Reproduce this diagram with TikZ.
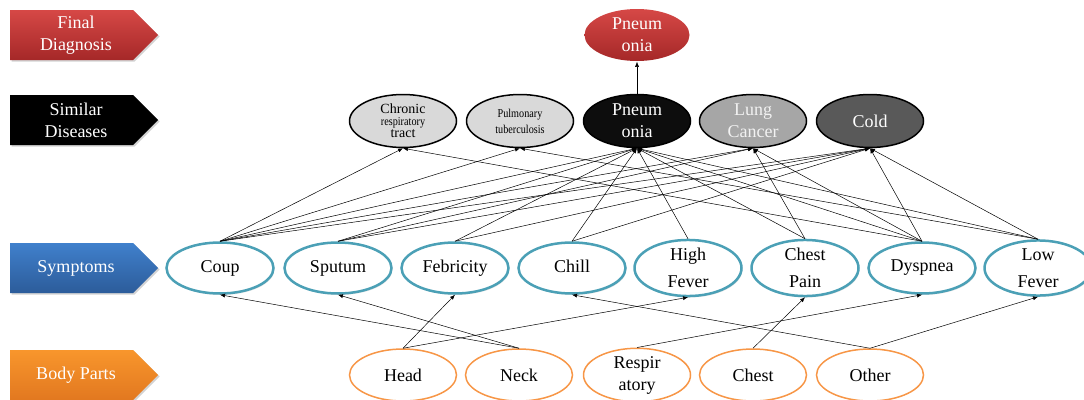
\documentclass[tikz,border=0pt]{standalone}
\usepackage{fontspec}
\setmainfont{Liberation Serif}
\usetikzlibrary{shapes.geometric,shapes.symbols,arrows.meta,shadows}

\definecolor{redtop}{RGB}{214,72,70}
\definecolor{redbot}{RGB}{165,40,40}
\definecolor{bluetop}{RGB}{64,128,204}
\definecolor{bluebot}{RGB}{44,92,154}
\definecolor{orangetop}{RGB}{248,150,44}
\definecolor{orangebot}{RGB}{226,120,32}
\definecolor{symteal}{RGB}{75,160,182}
\definecolor{bodyorange}{RGB}{247,150,70}

\tikzset{
  layer/.style={signal, signal to=east, signal pointer angle=90, minimum width=148pt,
    minimum height=50pt, inner sep=0pt, anchor=west,
    drop shadow={shadow xshift=1.5pt, shadow yshift=-1.5pt, opacity=0.35}},
  layertext/.style={text=white, font=\fontsize{18}{22}\selectfont, align=center},
  disease/.style={ellipse, draw=black, line width=1.5pt, minimum width=107pt,
    minimum height=53pt, inner sep=0pt, align=center, font=\fontsize{18}{22}\selectfont},
  symptom/.style={ellipse, draw=symteal, line width=2.5pt, fill=white, minimum width=107pt,
    minimum height=51pt, inner sep=0pt, align=center, font=\fontsize{18}{27}\selectfont,
    drop shadow={shadow xshift=1pt, shadow yshift=-1.5pt, opacity=0.2}},
  bodypart/.style={ellipse, draw=bodyorange, line width=1.5pt, fill=white, minimum width=107pt,
    minimum height=52pt, inner sep=0pt, align=center, font=\fontsize{18}{22}\selectfont},
  link/.style={-{Latex[length=5pt,width=4pt]}, line width=0.5pt},
}

\begin{document}
\begin{tikzpicture}[x=1pt, y=-1pt]
    \useasboundingbox (0,0) rectangle (1084,399);

    % Layer labels
    \node[layer, top color=redtop, bottom color=redbot] (lfinal) at (10,35) {};
    \node[layertext] (tfinal) at (76,35) {Final\\Diagnosis};
    \node[layer, top color=black, bottom color=black] (lsimilar) at (10,120) {};
    \node[layertext] (tsimilar) at (76,120) {Similar\\Diseases};
    \node[layer, top color=bluetop, bottom color=bluebot] (lsymptom) at (10,268) {};
    \node[layertext] (tsymptom) at (76,268) {Symptoms};
    \node[layer, top color=orangetop, bottom color=orangebot] (lbody) at (10,375) {};
    \node[layertext] (tbody) at (76,375) {Body Parts};

    % Final diagnosis
    \node[disease, draw=none, top color=redtop, bottom color=redbot, text=white,
      minimum width=105pt, minimum height=52pt] (final) at (637,35) {Pneum\\onia};

    % Similar diseases
    \node[disease, fill=black!15, font=\fontsize{14}{12}\selectfont] (chronic) at (403,121)
      {Chronic\\{\fontsize{12}{12}\selectfont\scalebox{0.85}[1]{respiratory}}\\tract};
    \node[disease, fill=black!15, font=\fontsize{12}{16}\selectfont] (pulmonary) at (520,121)
      {\scalebox{0.85}[1]{Pulmonary}\\\scalebox{0.85}[1]{tuberculosis}};
    \node[disease, fill=black!95, text=white] (pneumonia) at (637,121) {Pneum\\onia};
    \node[disease, fill=black!35, text=black!5] (cancer) at (753,121) {Lung\\Cancer};
    \node[disease, fill=black!65, text=white] (cold) at (870,121) {Cold};

    % Symptoms
    \foreach \name/\x/\txt in {coup/220/Coup, sputum/338/Sputum, febricity/455/Febricity,
        chill/572/{Chill\vphantom{p}}, highfever/688/{High\\Fever}, chestpain/805/{Chest\\Pain},
        dyspnea/922/Dyspnea, lowfever/1038/{Low\\Fever}} {
        \node[symptom] (\name) at (\x,268) {\txt};
    }

    % Body parts
    \foreach \name/\x/\txt in {head/403/Head, neck/519/Neck, respiratory/637/{Respir\\atory},
        chest/753/Chest, other/870/Other} {
        \node[bodypart] (\name) at (\x,375) {\txt};
    }

    % Symptoms -> similar diseases
    \foreach \s/\d in {coup/chronic, coup/pulmonary, coup/pneumonia, coup/cancer, coup/cold,
        sputum/pneumonia, sputum/cancer, sputum/cold, febricity/pneumonia, febricity/cold,
        chill/pneumonia, chill/cold, highfever/pneumonia, chestpain/pneumonia, chestpain/cancer,
        dyspnea/chronic, dyspnea/pneumonia, dyspnea/cancer, dyspnea/cold,
        lowfever/pulmonary, lowfever/pneumonia, lowfever/cold} {
        \draw[link] (\s.north) -- (\d.south);
    }
    \draw[link] (pneumonia.north) -- (final.south);

    % Body parts -> symptoms
    \foreach \b/\s in {head/febricity, head/highfever, neck/coup, neck/sputum,
        respiratory/dyspnea, chest/chestpain, other/chill, other/lowfever} {
        \draw[link] (\b.north) -- (\s.south);
    }
\end{tikzpicture}
\end{document}
